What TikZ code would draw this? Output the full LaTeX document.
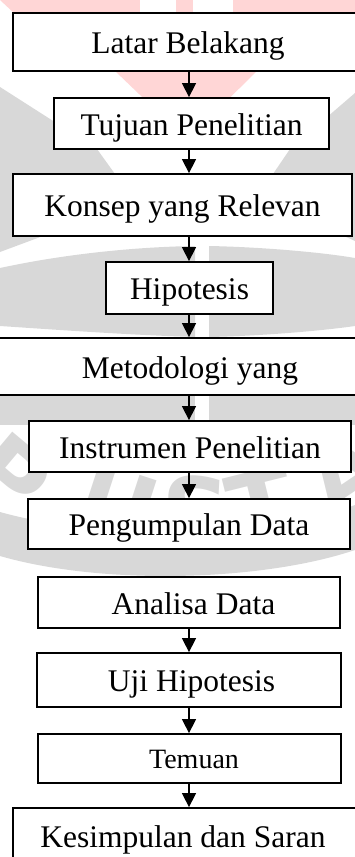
\documentclass[tikz,border=0pt]{standalone}
\usepackage{fontspec}
\setmainfont{Liberation Serif}
\newfontfamily\wmfont{DejaVu Sans}
\usetikzlibrary{arrows.meta}
\definecolor{wmpink}{RGB}{255,214,214}
\definecolor{wmgray}{RGB}{216,216,216}
\tikzset{
  box/.style={draw=black, line width=1.8pt, fill=white, inner sep=0pt,
    font=\fontsize{31.5}{36}\selectfont, text height=23.3pt, text depth=0pt},
  smallbox/.style={box, font=\fontsize{28}{32}\selectfont, text height=20.7pt},
  arr/.style={line width=1.4pt, -{Triangle[width=14pt,length=14pt]}},
  wmletter/.style={text=wmgray, font=\wmfont\bfseries\fontsize{95}{95}\selectfont, inner sep=0pt}
}
\begin{document}
\begin{tikzpicture}[x=1pt,y=-1pt]
\useasboundingbox (0,0) rectangle (355,857);
% ---- watermark ----
\fill[wmpink] (0,0) -- (355,0) -- (355,14) -- (257,71) -- (187,140) -- (115,71) -- (15,14) -- cycle;
\fill[white] (140,-1) rectangle (176,14);
\fill[white] (193,-1) rectangle (233,14);
\fill[wmgray] (0,87) -- (97,149) -- (115,174) -- (170,236) -- (43,236) -- (0,252) -- cycle;
\fill[wmgray] (355,93) -- (290,149) -- (273,174) -- (220,236) -- (344,236) -- (355,241) -- cycle;
\fill[wmgray] (0,268) .. controls (60,255) and (130,247) .. (195,246) -- (195,337) .. controls (130,335) and (60,330) .. (0,326) -- cycle;
\fill[wmgray] (209,246) .. controls (260,247) and (320,252) .. (355,258) -- (355,326) .. controls (320,331) and (260,336) .. (209,337) -- cycle;
\fill[wmgray] (0,345) rectangle (195,425);
\fill[wmgray] (209,345) rectangle (355,425);
\fill[wmgray] (0,512) .. controls (100,540) and (260,540) .. (355,505) -- (355,550) .. controls (260,582) and (100,585) .. (0,556) -- cycle;
\node[wmletter, rotate=-40] (wP) at (10,475) {P};
\node[wmletter, rotate=-18] (wU) at (118,505) {U};
\node[wmletter, rotate=-3] (wS) at (195,512) {S};
\node[wmletter, rotate=14] (wT) at (262,505) {T};
\node[wmletter, rotate=34] (wA) at (345,472) {A};
% ---- diagram ----
\coordinate (ax) at (189,0);
\node[box, minimum width=350pt, minimum height=58pt] (lb) at (188,42) {Latar Belakang};
\node[box, minimum width=275pt, minimum height=51pt] (tp) at (191.5,123.5) {Tujuan Penelitian};
\node[box, minimum width=339pt, minimum height=62pt] (kr) at (182.5,205) {Konsep yang Relevan};
\node[box, minimum width=167pt, minimum height=52pt] (hp) at (189.5,288) {Hipotesis};
\node[box, minimum width=400pt, minimum height=57pt] (mt) at (190,366.5) {Metodologi yang};
\node[box, minimum width=322pt, minimum height=51pt] (ip) at (190,446.5) {Instrumen Penelitian};
\node[box, minimum width=322pt, minimum height=50pt] (pd) at (189,524) {Pengumpulan Data};
\node[box, minimum width=302pt, minimum height=51pt] (ad) at (189,602.5) {\hspace*{9pt}Analisa Data};
\node[box, minimum width=304pt, minimum height=54pt] (uh) at (189,680) {\hspace*{5pt}Uji Hipotesis};
\node[smallbox, minimum width=303pt, minimum height=49pt] (tm) at (189.5,758.5) {\hspace*{9pt}Temuan};
\node[box, minimum width=352pt, minimum height=55pt] (ks) at (189,835.5) {\hspace*{-12pt}Kesimpulan dan Saran};
\draw[arr] (lb.south -| ax) -- (tp.north -| ax);
\draw[arr] (tp.south -| ax) -- (kr.north -| ax);
\draw[arr] (kr.south -| ax) -- (hp.north -| ax);
\draw[arr] (hp.south -| ax) -- (mt.north -| ax);
\draw[arr] (mt.south -| ax) -- (ip.north -| ax);
\draw[arr] (ip.south -| ax) -- (pd.north -| ax);
\draw[arr] (ad.south -| ax) -- (uh.north -| ax);
\draw[arr] (uh.south -| ax) -- (tm.north -| ax);
\draw[arr] (tm.south -| ax) -- (ks.north -| ax);
\end{tikzpicture}
\end{document}
